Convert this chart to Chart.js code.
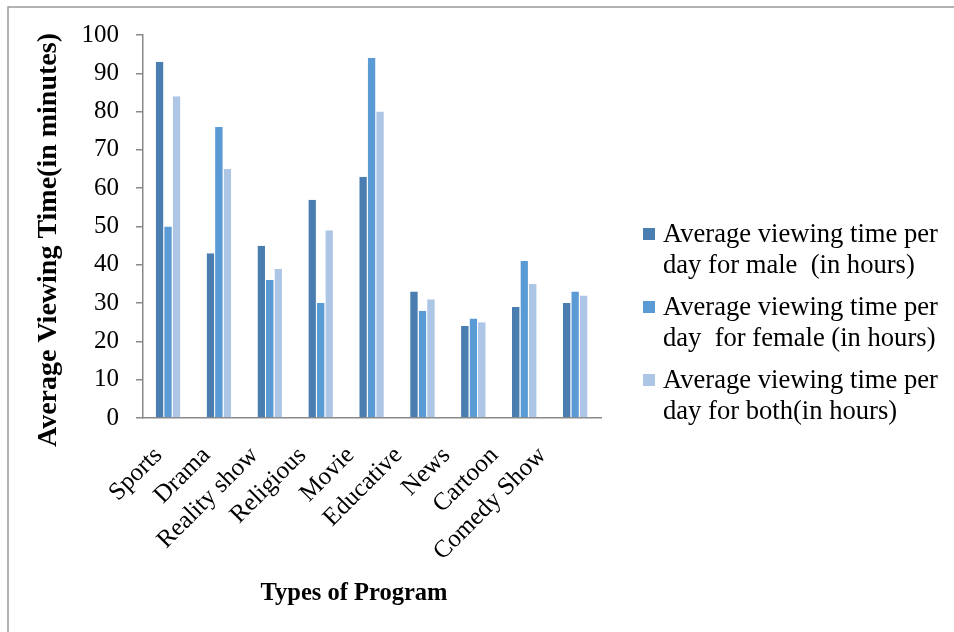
<!DOCTYPE html>
<html>
<head>
<meta charset="utf-8">
<script src="https://cdn.jsdelivr.net/npm/chart.js@4/dist/chart.umd.min.js"></script>
<style>
  html, body { margin: 0; padding: 0; background: #fff; }
  canvas { display: block; }
</style>
</head>
<body>
<canvas id="c" width="954" height="632"></canvas>
<script>
// Program types on the category axis
const programs = ['Sports', 'Drama', 'Reality show', 'Religious', 'Movie',
                  'Educative', 'News', 'Cartoon', 'Comedy Show'];

// Average viewing time per day (minutes) by audience group
const maleTime   = [93, 43, 45, 57, 63, 33, 24, 29, 30];
const femaleTime = [50, 76, 36, 30, 94, 28, 26, 41, 33];
const bothTime   = [84, 65, 39, 49, 80, 31, 25, 35, 32];

// Value axis ticks
const yTicks = [0, 10, 20, 30, 40, 50, 60, 70, 80, 90, 100];

// Legend entries, two lines each
const seriesLabels = [
  ['Average viewing time per', 'day for male  (in hours)'],
  ['Average viewing time per', 'day  for female (in hours)'],
  ['Average viewing time per', 'day for both(in hours)']
];

const xTitle = 'Types of Program';
const yTitle = 'Average Viewing Time(in minutes)';

const colors = ['#4a7eb0', '#5b9bd5', '#adc6e5'];
const SERIF = '"Liberation Serif", "Times New Roman", serif';
const AXIS_GREY = '#898989';

// Rotated category labels sit progressively closer together than the bars
const LABEL_DRIFT = 2.9;

const labelDrift = {
  id: 'labelDrift',
  beforeDraw(chart) {
    const xs = chart.scales.x;
    const items = xs.getLabelItems(chart.chartArea);
    if (items._drifted) return;
    items.forEach((item, i) => {
      item.options.translation[0] -= LABEL_DRIFT * i;
    });
    items._drifted = true;
  }
};

// Frame, axis titles and the two-line legend
const decorations = {
  id: 'decorations',
  afterDraw(chart) {
    const ctx = chart.ctx;
    ctx.save();

    // outer frame (left and top edges)
    ctx.strokeStyle = '#9a9a9a';
    ctx.lineWidth = 1.5;
    ctx.beginPath();
    ctx.moveTo(8, 632);
    ctx.lineTo(8, 7);
    ctx.lineTo(954, 7);
    ctx.stroke();

    ctx.fillStyle = '#000';

    // x axis title
    ctx.font = 'bold 24.5px ' + SERIF;
    ctx.textAlign = 'center';
    ctx.textBaseline = 'alphabetic';
    ctx.fillText(xTitle, 354, 600);

    // y axis title
    ctx.save();
    ctx.translate(56, 240);
    ctx.rotate(-Math.PI / 2);
    ctx.font = 'bold 28px ' + SERIF;
    ctx.textAlign = 'center';
    ctx.fillText(yTitle, 0, 0);
    ctx.restore();

    // legend
    ctx.font = '26.6px ' + SERIF;
    ctx.textAlign = 'left';
    const firstBaselines = [242, 315, 388];
    chart.data.datasets.forEach((ds, i) => {
      const b = firstBaselines[i];
      ctx.fillStyle = ds.backgroundColor;
      ctx.fillRect(643, b - 14, 12, 12);
      ctx.fillStyle = '#000';
      seriesLabels[i].forEach((line, j) => {
        ctx.fillText(line, 663, b + j * 31);
      });
    });

    ctx.restore();
  }
};

new Chart(document.getElementById('c'), {
  type: 'bar',
  data: {
    labels: programs,
    datasets: [
      { label: seriesLabels[0].join(' '), data: maleTime,   backgroundColor: colors[0] },
      { label: seriesLabels[1].join(' '), data: femaleTime, backgroundColor: colors[1] },
      { label: seriesLabels[2].join(' '), data: bothTime,   backgroundColor: colors[2] }
    ]
  },
  options: {
    responsive: false,
    animation: false,
    layout: { padding: { left: 0, top: 35, right: 353, bottom: 0 } },
    datasets: {
      bar: {
        categoryPercentage: 0.5,
        barPercentage: 1.0,
        borderWidth: { right: 1 },
        borderColor: 'rgba(255,255,255,0.6)',
        borderSkipped: 'bottom'
      }
    },
    plugins: {
      legend: { display: false },
      tooltip: { enabled: false },
      title: { display: false }
    },
    scales: {
      x: {
        grid: { display: false, drawTicks: false },
        border: { display: true, color: AXIS_GREY, width: 1.5 },
        ticks: {
          autoSkip: false,
          minRotation: 45,
          maxRotation: 45,
          padding: 23,
          labelOffset: -10,
          color: '#000',
          font: { family: SERIF, size: 25 }
        },
        afterFit(scale) { scale.height = 214; }
      },
      y: {
        min: 0,
        max: 100,
        afterBuildTicks(scale) { scale.ticks = yTicks.map(v => ({ value: v })); },
        grid: {
          display: true,
          drawOnChartArea: false,
          drawTicks: true,
          tickLength: 7,
          color: AXIS_GREY,
          lineWidth: 1.5
        },
        border: { display: true, color: AXIS_GREY, width: 1.5 },
        ticks: {
          padding: 17,
          color: '#000',
          font: { family: SERIF, size: 25 }
        },
        afterFit(scale) { scale.width = 143; }
      }
    }
  },
  plugins: [labelDrift, decorations]
});
</script>
</body>
</html>
